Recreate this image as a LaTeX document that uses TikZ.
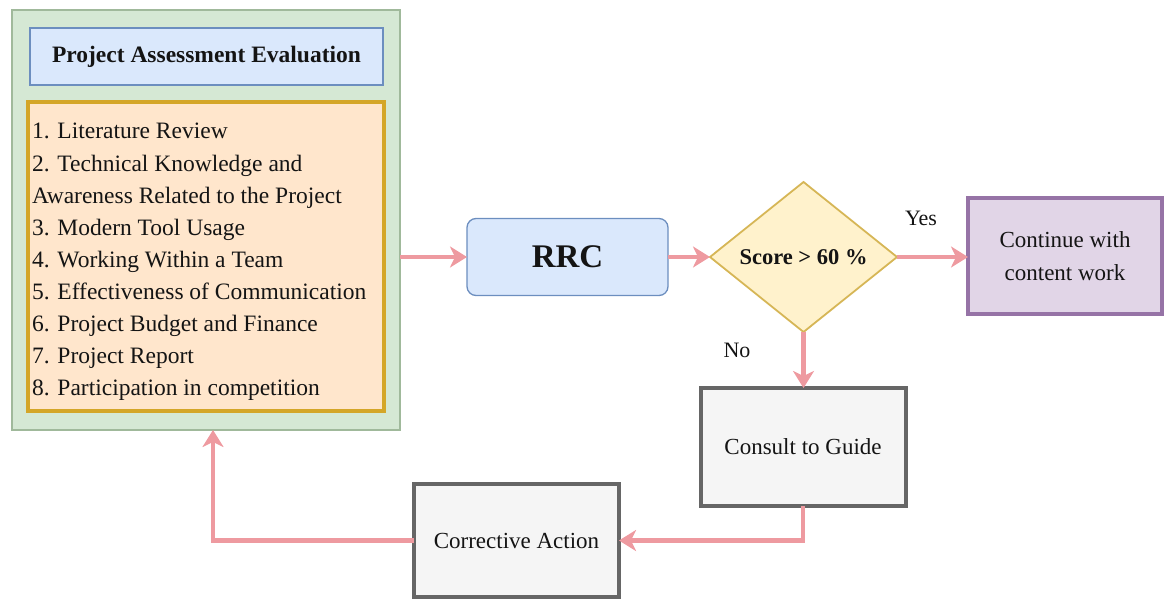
\documentclass[tikz,border=0pt]{standalone}
\usepackage{fontspec}
\setmainfont{Liberation Serif}
\usetikzlibrary{shapes.geometric,arrows.meta}
\definecolor{pinkarrow}{RGB}{238,154,160}
\definecolor{greenfill}{RGB}{213,232,212}
\definecolor{greenline}{RGB}{160,185,155}
\definecolor{bluefill}{RGB}{218,232,252}
\definecolor{blueline}{RGB}{108,142,191}
\definecolor{orangefill}{RGB}{255,230,204}
\definecolor{goldline}{RGB}{212,166,40}
\definecolor{yellowfill}{RGB}{255,242,204}
\definecolor{yellowline}{RGB}{214,182,86}
\definecolor{purplefill}{RGB}{225,213,231}
\definecolor{purpleline}{RGB}{150,115,166}
\definecolor{grayfill}{RGB}{245,245,245}
\definecolor{grayline}{RGB}{102,102,102}
\definecolor{txt}{RGB}{20,20,20}
\begin{document}
\begin{tikzpicture}[x=1pt,y=-1pt,
  every node/.style={text=txt, inner sep=0pt, outer sep=0pt},
  boxbase/.style={rectangle, draw, align=center},
  outerbox/.style={boxbase, fill=greenfill, draw=greenline, line width=1.5pt},
  titlebox/.style={boxbase, fill=bluefill, draw=blueline, line width=1.3pt, font=\fontsize{23.5}{28}\selectfont\bfseries},
  listbox/.style={boxbase, fill=orangefill, draw=goldline, line width=4pt},
  listline/.style={anchor=base west, font=\fontsize{23.5}{28}\selectfont},
  rrcbox/.style={boxbase, rounded corners=9pt, fill=bluefill, draw=blueline, line width=1.3pt, font=\fontsize{33}{36}\selectfont\bfseries},
  decision/.style={diamond, aspect=1.26, draw=yellowline, fill=yellowfill, line width=1.8pt, font=\fontsize{22.5}{27}\selectfont\bfseries},
  contbox/.style={boxbase, fill=purplefill, draw=purpleline, line width=4pt, font=\fontsize{23}{33}\selectfont},
  graybox/.style={boxbase, fill=grayfill, draw=grayline, line width=4pt, font=\fontsize{23}{28}\selectfont},
  lbl/.style={font=\fontsize{22}{26}\selectfont},
  arr/.style={draw=pinkarrow, line width=4.5pt, -{Stealth[length=17pt,width=21pt,inset=5pt]}}
]
\useasboundingbox (0,0) rectangle (1166,599);

% left panel
\node[outerbox, minimum width=388pt, minimum height=420pt] (outer) at (206,220) {};
\node[titlebox, minimum width=353pt, minimum height=57pt] (title) at (206.5,56.5) {Project Assessment Evaluation};
\node[listbox, minimum width=356pt, minimum height=309pt] (list) at (206,256.5) {};
\node[listline] (l1) at (32,139) {1. Literature Review};
\node[listline] (l2) at (32,171) {2. Technical Knowledge and};
\node[listline] (l3) at (32,203) {Awareness Related to the Project};
\node[listline] (l4) at (32,235) {3. Modern Tool Usage};
\node[listline] (l5) at (32,267) {4. Working Within a Team};
\node[listline] (l6) at (32,299) {5. Effectiveness of Communication};
\node[listline] (l7) at (32,331) {6. Project Budget and Finance};
\node[listline] (l8) at (32,363) {7. Project Report};
\node[listline] (l9) at (32,395) {8. Participation in competition};

% flow nodes
\node[rrcbox, minimum width=201pt, minimum height=77pt] (rrc) at (567.5,257) {RRC};
\node[decision, minimum width=187pt, minimum height=150pt] (dia) at (803.5,257) {Score > 60 \%};
\node[contbox, minimum width=194pt, minimum height=116pt] (cont) at (1065,256) {Continue with\\content work};
\node[graybox, minimum width=205pt, minimum height=118pt] (consult) at (803,447) {Consult to Guide};
\node[graybox, minimum width=205pt, minimum height=113pt] (corr) at (516.5,540.5) {Corrective Action};

% labels
\node[lbl] (yes) at (921,218) {Yes};
\node[lbl] (no) at (737,350) {No};

% connectors
\coordinate (bend) at (213,540.5);
\draw[arr] (outer.east |- rrc.west) -- (rrc.west);
\draw[arr] (rrc.east) -- (rrc.east -| dia.west);
\draw[arr] (dia.east) -- (dia.east -| cont.west);
\draw[arr] (dia.south) -- (dia.south |- consult.north);
\draw[arr] (consult.south) |- (corr.east);
\draw[arr] (corr.west) -| (outer.south -| bend);
\end{tikzpicture}
\end{document}
